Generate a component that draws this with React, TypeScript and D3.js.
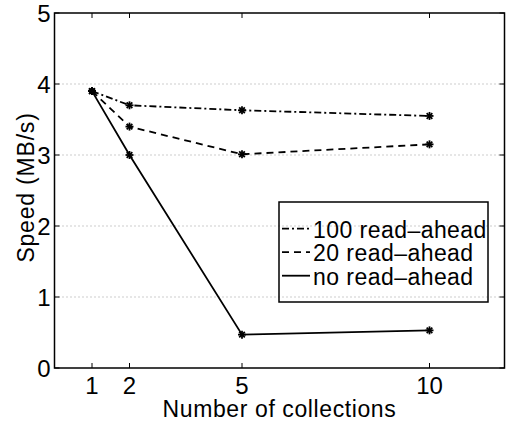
import React, { useEffect, useRef } from 'react'
import * as d3 from 'd3'

// values
const collections = [1, 2, 5, 10]
const readAhead100 = [3.9, 3.7, 3.63, 3.55]
const readAhead20 = [3.9, 3.4, 3.01, 3.15]
const noReadAhead = [3.9, 3.0, 0.47, 0.53]
const xTicks = [1, 2, 5, 10]
const yTicks = [0, 1, 2, 3, 4, 5]
const gridValues = [1, 2, 3, 4]

const SERIES = [
  { label: '100 read\u2013ahead', values: readAhead100, dash: '7,3,2,3' },
  { label: '20 read\u2013ahead', values: readAhead20, dash: '7,5' },
  { label: 'no read\u2013ahead', values: noReadAhead, dash: null },
]

const W = 507
const H = 423
const FONT = '"Liberation Sans", Arial, Helvetica, sans-serif'

export default function App() {
  const svgRef = useRef<SVGSVGElement>(null)

  useEffect(() => {
    if (!svgRef.current) return
    const margin = { top: 13, right: 2.5, bottom: 55, left: 54.5 }
    const innerW = W - margin.left - margin.right
    const innerH = H - margin.top - margin.bottom

    const svg = d3.select(svgRef.current)
    svg.selectAll('*').remove()
    svg.attr('width', W).attr('height', H)

    const x = d3.scaleLinear().domain([0, 12]).range([0, innerW])
    const y = d3.scaleLinear().domain([0, 5]).range([innerH, 0])

    const g = svg.append('g').attr('transform', `translate(${margin.left},${margin.top})`)

    // dotted horizontal grid
    g.selectAll('.grid')
      .data(gridValues)
      .join('line')
      .attr('x1', 0).attr('x2', innerW)
      .attr('y1', d => y(d)).attr('y2', d => y(d))
      .attr('stroke', '#9a9a9a').attr('stroke-width', 1)
      .attr('stroke-dasharray', '1,3')

    // inward ticks on all four sides
    const tickLen = 5
    xTicks.forEach(t => {
      g.append('line').attr('x1', x(t)).attr('x2', x(t)).attr('y1', innerH).attr('y2', innerH - tickLen)
        .attr('stroke', '#000').attr('stroke-width', 1)
      g.append('line').attr('x1', x(t)).attr('x2', x(t)).attr('y1', 0).attr('y2', tickLen)
        .attr('stroke', '#000').attr('stroke-width', 1)
    })
    yTicks.forEach(t => {
      g.append('line').attr('x1', 0).attr('x2', tickLen).attr('y1', y(t)).attr('y2', y(t))
        .attr('stroke', '#000').attr('stroke-width', 1)
      g.append('line').attr('x1', innerW).attr('x2', innerW - tickLen).attr('y1', y(t)).attr('y2', y(t))
        .attr('stroke', '#000').attr('stroke-width', 1)
    })

    // tick labels
    g.selectAll('.xlab')
      .data(xTicks)
      .join('text')
      .attr('x', d => x(d)).attr('y', innerH + 26)
      .attr('text-anchor', 'middle')
      .attr('font-family', FONT).attr('font-size', 24).attr('fill', '#000')
      .text(d => String(d))
    g.selectAll('.ylab')
      .data(yTicks)
      .join('text')
      .attr('x', -4).attr('y', d => y(d) + 8.5)
      .attr('text-anchor', 'end')
      .attr('font-family', FONT).attr('font-size', 24).attr('fill', '#000')
      .text(d => String(d))

    // series lines + asterisk markers
    const line = d3.line<number>()
      .x((_, i) => x(collections[i]))
      .y(d => y(d))
    SERIES.forEach(s => {
      g.append('path')
        .attr('d', line(s.values))
        .attr('fill', 'none').attr('stroke', '#000').attr('stroke-width', 1.8)
        .attr('stroke-dasharray', s.dash)
    })
    const r = 4
    SERIES.forEach(s => {
      s.values.forEach((v, i) => {
        const cx = x(collections[i])
        const cy = y(v)
        const star = g.append('g').attr('transform', `translate(${cx},${cy})`)
        ;[0, 45, 90, 135].forEach(a => {
          const rad = (a * Math.PI) / 180
          star.append('line')
            .attr('x1', -r * Math.cos(rad)).attr('y1', -r * Math.sin(rad))
            .attr('x2', r * Math.cos(rad)).attr('y2', r * Math.sin(rad))
            .attr('stroke', '#000').attr('stroke-width', 1.8)
        })
      })
    })

    // axes box
    g.append('rect')
      .attr('width', innerW).attr('height', innerH)
      .attr('fill', 'none').attr('stroke', '#000').attr('stroke-width', 1.5)

    // axis titles
    svg.append('text')
      .attr('x', margin.left + innerW / 2).attr('y', 417)
      .attr('text-anchor', 'middle')
      .attr('font-family', FONT).attr('font-size', 23).attr('letter-spacing', 0.6)
      .text('Number of collections')
    svg.append('text')
      .attr('transform', `translate(34,${margin.top + innerH / 2 - 3}) rotate(-90)`)
      .attr('text-anchor', 'middle')
      .attr('font-family', FONT).attr('font-size', 23).attr('letter-spacing', 0.8)
      .text('Speed (MB/s)')

    // legend
    const lg = svg.append('g').attr('transform', 'translate(279,202)')
    lg.append('rect')
      .attr('width', 209).attr('height', 100)
      .attr('fill', 'none').attr('stroke', '#000').attr('stroke-width', 1.5)
    SERIES.forEach((s, i) => {
      const by = 35.7 + i * 23.5
      lg.append('line')
        .attr('x1', 3).attr('x2', 31).attr('y1', by - 9).attr('y2', by - 9)
        .attr('stroke', '#000').attr('stroke-width', 1.8)
        .attr('stroke-dasharray', s.dash)
      lg.append('text')
        .attr('x', 34).attr('y', by)
        .attr('font-family', FONT).attr('font-size', 23).attr('letter-spacing', 0.45)
        .text(s.label)
    })
  }, [])

  return (
    <div style={{ position: 'absolute', left: 0, top: 0, width: W, height: H, background: '#fff' }}>
      <svg ref={svgRef} style={{ display: 'block' }} />
    </div>
  )
}
